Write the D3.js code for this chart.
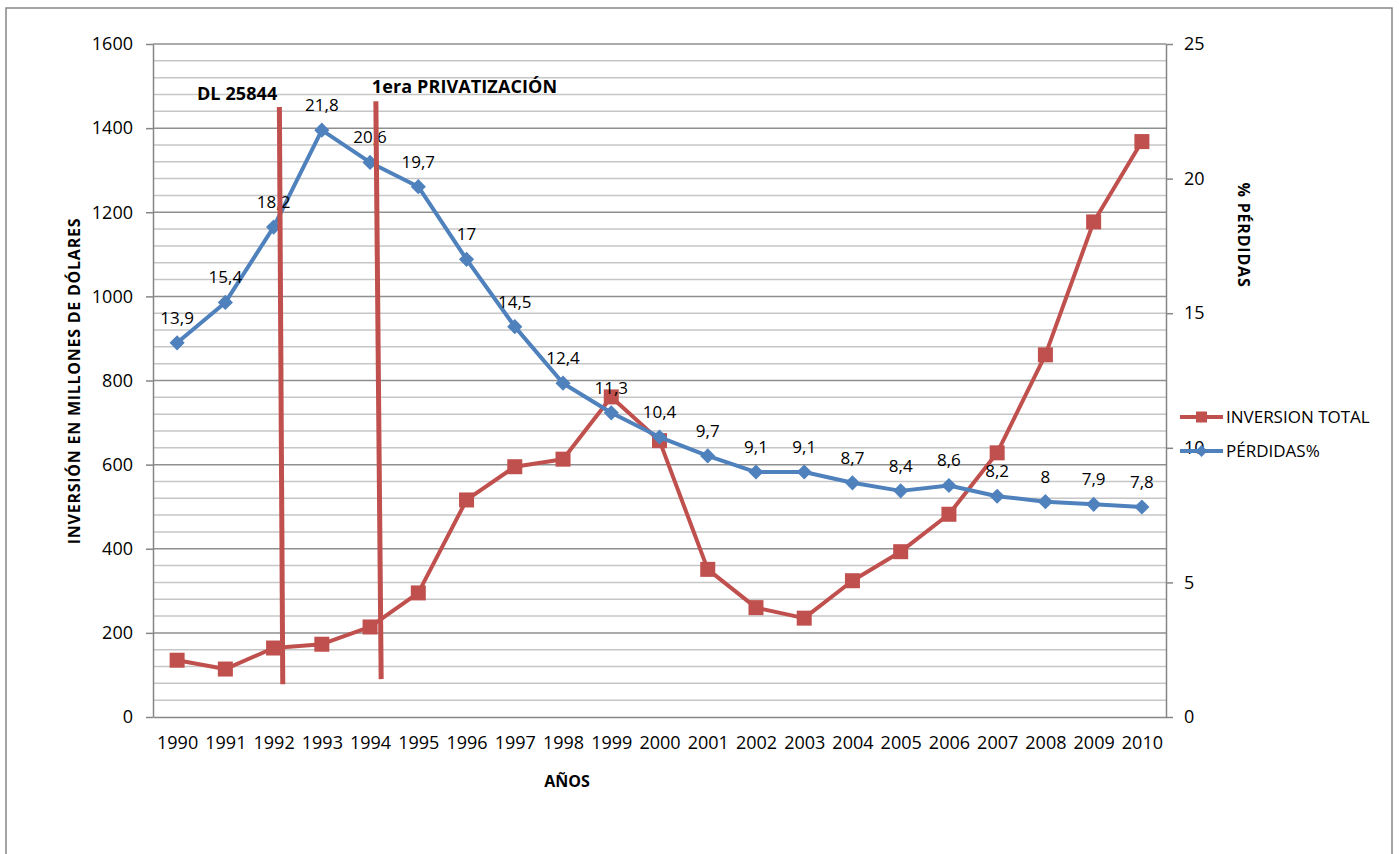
<!DOCTYPE html>
<html lang="es">
<head>
<meta charset="utf-8">
<title>Inversión total y pérdidas</title>
<script src="https://cdn.jsdelivr.net/npm/d3@7/dist/d3.min.js"></script>
<style>
    html, body { margin: 0; padding: 0; background: #fff; }
    svg { display: block; font-family: 'Open Sans', 'DejaVu Sans', sans-serif; }
    .axis path, .axis line { stroke: #868686; stroke-width: 1.5; }
    .axis text { fill: #000; font-size: 18px; }
    .axis-title { font-weight: 700; font-size: 16px; fill: #000; }
    .value-label { font-size: 17px; fill: #000; }
    .legend-text { font-size: 17px; fill: #000; }
    .annotation-text { font-weight: 700; font-size: 18px; fill: #000; letter-spacing: 0.1px; }
</style>
</head>
<body>
<svg id="chart" width="1399" height="854"></svg>
<script>
// Data
const years = [1990, 1991, 1992, 1993, 1994, 1995, 1996, 1997, 1998, 1999, 2000,
               2001, 2002, 2003, 2004, 2005, 2006, 2007, 2008, 2009, 2010];
const inversionTotal = [135, 114, 164, 173, 214, 295, 516, 595, 613, 761, 657,
                        351, 260, 235, 324, 393, 482, 628, 861, 1177, 1368];
const perdidas = [13.9, 15.4, 18.2, 21.8, 20.6, 19.7, 17, 14.5, 12.4, 11.3, 10.4,
                  9.7, 9.1, 9.1, 8.7, 8.4, 8.6, 8.2, 8, 7.9, 7.8];
const leftTicks = [0, 200, 400, 600, 800, 1000, 1200, 1400, 1600];
const rightTicks = [0, 5, 10, 15, 20, 25];
// hand-drawn marker lines: [year, value on left axis] at both ends
const annotationLabels = ['DL 25844', '1era PRIVATIZACIÓN'];
const annotationTop = [[1992.12, 1450], [1994.12, 1464]];
const annotationBottom = [[1992.19, 78], [1994.23, 90]];

const COLORS = {
    red: '#C0504D',
    blue: '#4F81BD',
    gridMajor: '#8f8f8f',
    gridMinor: '#c6c6c6',
    frame: '#868686'
};

const svg = d3.select('#chart');
const plot = { left: 153, right: 1166, top: 44, bottom: 717 };

// Scales
const x = d3.scalePoint()
    .domain(years)
    .range([plot.left, plot.right])
    .padding(0.5);
const xYear = d3.scaleLinear()
    .domain([years[0], years[years.length - 1]])
    .range([x(years[0]), x(years[years.length - 1])]);
const yLeft = d3.scaleLinear().domain([0, 1600]).range([plot.bottom, plot.top]);
const yRight = d3.scaleLinear().domain([0, 25]).range([plot.bottom, plot.top]);

const fmt = v => String(v).replace('.', ',');

// Outer frame of the chart area
svg.append('rect')
    .attr('x', 6).attr('y', 8)
    .attr('width', 1386).attr('height', 900)
    .attr('fill', 'none')
    .attr('stroke', COLORS.frame)
    .attr('stroke-width', 1.5);

// Grid lines (minor every 40, major every 200)
svg.append('g')
    .attr('class', 'grid')
    .selectAll('line')
    .data(d3.range(40, 1601, 40))
    .join('line')
    .attr('x1', plot.left)
    .attr('x2', plot.right)
    .attr('y1', d => yLeft(d))
    .attr('y2', d => yLeft(d))
    .attr('stroke', d => d % 200 === 0 ? COLORS.gridMajor : COLORS.gridMinor)
    .attr('stroke-width', 1.5);

// Axes
svg.append('g')
    .attr('class', 'axis y-left')
    .attr('transform', `translate(${plot.left},0)`)
    .call(d3.axisLeft(yLeft).tickValues(leftTicks).tickFormat(d => String(d))
        .tickSize(7).tickSizeOuter(0).tickPadding(13));

svg.append('g')
    .attr('class', 'axis y-right')
    .attr('transform', `translate(${plot.right},0)`)
    .call(d3.axisRight(yRight).tickValues(rightTicks).tickFormat(d => String(d))
        .tickSize(7).tickSizeOuter(0).tickPadding(11));

svg.append('g')
    .attr('class', 'axis x-axis')
    .attr('transform', `translate(0,${plot.bottom})`)
    .call(d3.axisBottom(x).tickSize(0).tickSizeOuter(0).tickPadding(19));

svg.selectAll('.axis').attr('font-family', null).attr('font-size', null);

// Axis titles
svg.append('text')
    .attr('class', 'axis-title')
    .attr('transform', 'translate(80,381) rotate(-90)')
    .attr('text-anchor', 'middle')
    .attr('letter-spacing', '0.75px')
    .text('INVERSIÓN EN MILLONES DE DÓLARES');

svg.append('text')
    .attr('class', 'axis-title')
    .attr('transform', 'translate(1238,235) rotate(90)')
    .attr('text-anchor', 'middle')
    .attr('letter-spacing', '0.8px')
    .text('% PÉRDIDAS');

svg.append('text')
    .attr('class', 'axis-title')
    .attr('x', 567)
    .attr('y', 787)
    .attr('text-anchor', 'middle')
    .text('AÑOS');

// Series
const invData = years.map((yr, i) => ({ year: yr, value: inversionTotal[i] }));
const perData = years.map((yr, i) => ({ year: yr, value: perdidas[i] }));

const invLine = d3.line().x(d => x(d.year)).y(d => yLeft(d.value));
const perLine = d3.line().x(d => x(d.year)).y(d => yRight(d.value));

svg.append('path')
    .datum(invData)
    .attr('d', invLine)
    .attr('fill', 'none')
    .attr('stroke', COLORS.red)
    .attr('stroke-width', 4)
    .attr('stroke-linejoin', 'round');

svg.append('g')
    .selectAll('rect')
    .data(invData)
    .join('rect')
    .attr('x', d => x(d.year) - 7.5)
    .attr('y', d => yLeft(d.value) - 7.5)
    .attr('width', 15)
    .attr('height', 15)
    .attr('fill', COLORS.red);

svg.append('path')
    .datum(perData)
    .attr('d', perLine)
    .attr('fill', 'none')
    .attr('stroke', COLORS.blue)
    .attr('stroke-width', 4)
    .attr('stroke-linejoin', 'round');

const diamond = d3.symbol().type(d3.symbolSquare).size(115);
svg.append('g')
    .selectAll('path')
    .data(perData)
    .join('path')
    .attr('d', diamond)
    .attr('transform', d => `translate(${x(d.year)},${yRight(d.value)}) rotate(45)`)
    .attr('fill', COLORS.blue);

// Value labels on the % pérdidas series
svg.append('g')
    .selectAll('text')
    .data(perData)
    .join('text')
    .attr('class', 'value-label')
    .attr('x', d => x(d.year))
    .attr('y', d => yRight(d.value) - 19)
    .attr('text-anchor', 'middle')
    .text(d => fmt(d.value));

// Annotation lines and labels
annotationLabels.forEach((label, i) => {
    const [tx, tv] = annotationTop[i];
    const [bx, bv] = annotationBottom[i];
    svg.append('line')
        .attr('x1', xYear(tx)).attr('y1', yLeft(tv))
        .attr('x2', xYear(bx)).attr('y2', yLeft(bv))
        .attr('stroke', COLORS.red)
        .attr('stroke-width', 5);
});

svg.append('text')
    .attr('class', 'annotation-text')
    .attr('x', xYear(annotationTop[0][0]) - 2)
    .attr('y', yLeft(annotationTop[0][1]) - 7)
    .attr('text-anchor', 'end')
    .text(annotationLabels[0]);

svg.append('text')
    .attr('class', 'annotation-text')
    .attr('x', xYear(annotationTop[1][0]) - 4)
    .attr('y', yLeft(annotationTop[1][1]) - 8)
    .attr('text-anchor', 'start')
    .text(annotationLabels[1]);

// Legend
const legendItems = [
    { name: 'INVERSION TOTAL', color: COLORS.red, shape: 'square' },
    { name: 'PÉRDIDAS%', color: COLORS.blue, shape: 'diamond' }
];
const legend = svg.append('g').attr('transform', 'translate(1180,417)');
legendItems.forEach((item, i) => {
    const g = legend.append('g').attr('transform', `translate(0,${i * 34})`);
    g.append('line')
        .attr('x1', 0).attr('x2', 43)
        .attr('stroke', item.color)
        .attr('stroke-width', 4);
    if (item.shape === 'square') {
        g.append('rect')
            .attr('x', 16).attr('y', -5.5)
            .attr('width', 11).attr('height', 11)
            .attr('fill', item.color);
    } else {
        g.append('path')
            .attr('d', d3.symbol().type(d3.symbolSquare).size(70))
            .attr('transform', 'translate(21.5,0) rotate(45)')
            .attr('fill', item.color);
    }
    g.append('text')
        .attr('class', 'legend-text')
        .attr('x', 46)
        .attr('y', 6)
        .text(item.name);
});
</script>
</body>
</html>
